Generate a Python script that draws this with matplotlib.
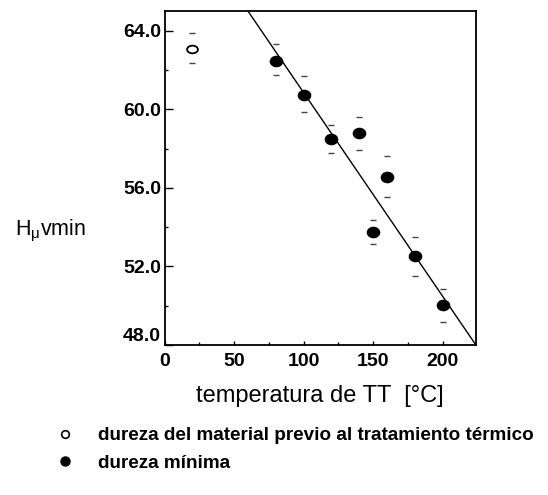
import matplotlib
matplotlib.use("Agg")
import matplotlib.pyplot as plt
from matplotlib.lines import Line2D
from matplotlib.markers import MarkerStyle
from matplotlib.transforms import Affine2D, ScaledTranslation
from matplotlib.ticker import MultipleLocator, FormatStrFormatter
import numpy as np

plt.rcParams['font.family'] = ['Liberation Sans', 'DejaVu Sans']
plt.rcParams['mathtext.fontset'] = 'custom'
plt.rcParams['mathtext.rm'] = 'Liberation Sans'
plt.rcParams['mathtext.it'] = 'Liberation Sans'

# --- data ---
pre_temp = [20]
pre_hard = [63.05]
pre_upper = [63.90]
pre_lower = [62.36]

min_temp = [80, 100, 120, 140, 150, 160, 180, 200]
min_hard = [62.48, 60.74, 58.50, 58.77, 53.74, 56.56, 52.51, 50.03]
min_upper = [63.30, 61.70, 59.19, 59.61, 54.38, 57.64, 53.52, 50.85]
min_lower = [61.72, 59.85, 57.77, 57.92, 53.13, 55.51, 51.49, 49.18]

fit_intercept = 71.22
fit_slope = -0.1037

x_ticks = [0, 50, 100, 150, 200]
y_ticks = [48.0, 52.0, 56.0, 60.0, 64.0]
x_label = "temperatura de TT  [°C]"
y_label = r"H$_{\mathrm{\mu}}$vmin"
legend_labels = ["dureza del material previo al tratamiento térmico",
                 "dureza mínima"]

W, H = 548, 495
fig = plt.figure(figsize=(W / 100, H / 100), dpi=100)
L, R, T, B = 164.5, 476, 11, 345
ax = fig.add_axes([L / W, 1 - B / H, (R - L) / W, (B - T) / H])

ax.set_xlim(0, 224)
ax.set_ylim(48, 65)

# fit line
xf = np.array([0, 224])
ax.plot(xf, fit_intercept + fit_slope * xf, color='black', lw=1.0, zorder=2)

# caps (error dashes)
cap_kw = dict(ls='none', marker='_', ms=5, mew=1.0, color='#444444', zorder=3)
ax.plot(pre_temp, pre_upper, **cap_kw)
ax.plot(pre_temp, pre_lower, **cap_kw)
ax.plot(min_temp, min_upper, **cap_kw)
ax.plot(min_temp, min_lower, **cap_kw)

ell = MarkerStyle('o', transform=Affine2D().scale(1.1, 0.92))
ax.plot(min_temp, min_hard, ls='none', marker=ell, ms=8, color='black', zorder=4)
ell2 = MarkerStyle('o', fillstyle='none', transform=Affine2D().scale(1.2, 0.85))
ax.plot(pre_temp, pre_hard, ls='none', marker=ell2, ms=6.5, mew=1.3,
        color='black', zorder=4)

for s in ax.spines.values():
    s.set_linewidth(1.3)

ax.set_xticks(x_ticks)
ax.set_yticks(y_ticks)
ax.xaxis.set_minor_locator(MultipleLocator(25))
ax.yaxis.set_minor_locator(MultipleLocator(2))
ax.yaxis.set_major_formatter(FormatStrFormatter('%.1f'))
ax.tick_params(axis='y', which='major', direction='in', length=5.5, width=1.0,
               labelsize=14, pad=2.5)
ax.tick_params(axis='y', which='minor', direction='in', length=2.5, width=1.0)
ax.tick_params(axis='x', which='major', direction='in', length=3, width=1.0,
               labelsize=14, pad=5.5)
ax.tick_params(axis='x', which='minor', direction='in', length=2.5, width=1.0)
for lab in ax.get_xticklabels() + ax.get_yticklabels():
    lab.set_fontweight('bold')
# shift the lowest y tick label upward
ylabs = ax.get_yticklabels()
ylabs[0].set_transform(ylabs[0].get_transform() +
                       ScaledTranslation(0, 10 / 100, fig.dpi_scale_trans))

ax.set_xlabel(x_label, fontsize=17)
ax.xaxis.set_label_coords(0.5, (B - 396) / (B - T))
ax.xaxis.label.set_va('center')

fig.text(50 / W, 1 - 231 / H, y_label, fontsize=15.5, ha='center', va='center')

handles = [
    Line2D([], [], ls='none', marker='o', ms=5.5, mfc='white', mec='black', mew=1.2),
    Line2D([], [], ls='none', marker='o', ms=6.5, color='black'),
]
leg = fig.legend(handles, legend_labels, loc='upper left',
                 bbox_to_anchor=(56 / W, 1 - 427 / H), frameon=False,
                 prop={'weight': 'bold', 'size': 13.6}, borderpad=0,
                 borderaxespad=0, handlelength=1.0, handletextpad=1.25,
                 labelspacing=0.55)

fig.savefig("out.png", dpi=100)
